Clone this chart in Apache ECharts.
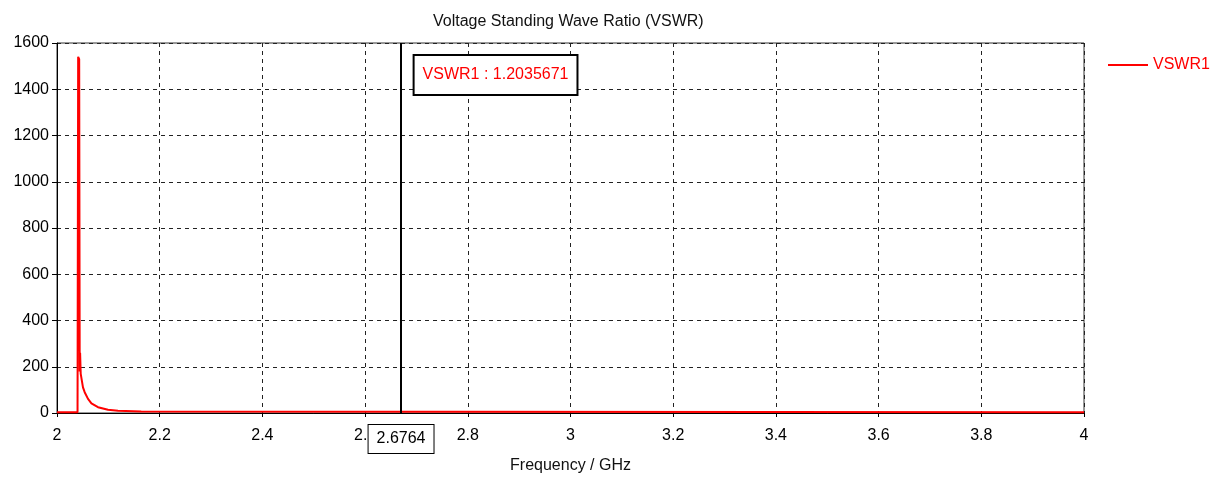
<!DOCTYPE html>
<html>
<head>
    <meta charset="utf-8">
    <title>VSWR</title>
    <script src="https://cdn.jsdelivr.net/npm/echarts@6/dist/echarts.min.js"></script>
    <style>
        html, body { margin: 0; padding: 0; background: #fff; }
        #container { width: 1213px; height: 479px; }
    </style>
</head>
<body>
<div id="container"></div>
<script type="text/javascript">
    // frequency (GHz) and VSWR
    var freqs = [2.0, 2.040, 2.0412, 2.0432, 2.0442, 2.0450, 2.0462, 2.0506, 2.0539, 2.0604, 2.067, 2.0798, 2.0993, 2.1188, 2.164, 2.165, 4.0];
    var vswr  = [3, 3, 1540, 1530, 180, 260, 169, 111, 90, 61, 42, 25, 14, 10, 7, 3, 3];
    // marker: where the line sits in the picture, and what its labels say
    var markerPos = 2.675;
    var markerFreqText = '2.6764';
    var markerText = 'VSWR1 : 1.2035671';

    var seriesData = [];
    for (var i = 0; i < freqs.length; i++) {
        seriesData.push([freqs[i], vswr[i]]);
    }

    var fontName = 'Liberation Sans';
    var mychart = echarts.init(document.getElementById('container'));

    var options = {
        animation: false,
        textStyle: { fontFamily: fontName },
        title: {
            text: 'Voltage Standing Wave Ratio (VSWR)',
            left: 428,
            top: 9,
            textStyle: { fontFamily: fontName, fontSize: 16, fontWeight: 'normal', color: '#111' }
        },
        legend: {
            left: 1103,
            top: 52,
            itemWidth: 40,
            itemHeight: 2,
            itemGap: 5,
            textStyle: { fontFamily: fontName, fontSize: 16, color: '#ff0000' },
            data: [{ name: 'VSWR1', icon: 'rect' }]
        },
        grid: {
            left: 57,
            right: 129,
            top: 43,
            bottom: 66,
            show: true,
            borderColor: '#333',
            borderWidth: 1,
            backgroundColor: '#fff'
        },
        xAxis: {
            type: 'value',
            min: 2,
            max: 4,
            interval: 0.2,
            name: 'Frequency / GHz',
            nameLocation: 'middle',
            nameGap: 45,
            nameTextStyle: { fontFamily: fontName, fontSize: 16, color: '#111' },
            axisLine: { lineStyle: { color: '#000', width: 1 } },
            axisTick: { show: true, length: 4, lineStyle: { color: '#000' } },
            axisLabel: { margin: 15, fontFamily: fontName, fontSize: 16, color: '#000' },
            splitLine: { show: true, lineStyle: { color: '#222', type: [4, 4], width: 1 } }
        },
        yAxis: {
            type: 'value',
            min: 0,
            max: 1600,
            interval: 200,
            axisLine: { show: true, lineStyle: { color: '#000', width: 1 } },
            axisTick: { show: true, length: 5, lineStyle: { color: '#000' } },
            axisLabel: {
                margin: 8, fontFamily: fontName, fontSize: 16, color: '#000',
                formatter: function (v) { return String(v); }
            },
            splitLine: { show: true, lineStyle: { color: '#222', type: [4, 4], width: 1 } }
        },
        series: [
            {
                name: 'VSWR1',
                type: 'line',
                symbol: 'none',
                color: '#ff0000',
                lineStyle: { color: '#ff0000', width: 2 },
                data: seriesData,
                z: 3,
                markLine: {
                    silent: true,
                    symbol: 'none',
                    animation: false,
                    lineStyle: { color: '#000', width: 2, type: 'solid' },
                    label: {
                        show: true,
                        position: 'start',
                        distance: 12,
                        formatter: markerFreqText,
                        fontFamily: fontName,
                        fontSize: 16,
                        color: '#000',
                        backgroundColor: '#fff',
                        borderColor: '#000',
                        borderWidth: 1,
                        padding: [6, 8]
                    },
                    emphasis: { disabled: true },
                    data: [{ xAxis: markerPos }]
                },
                markPoint: {
                    silent: true,
                    symbol: 'rect',
                    symbolSize: 0,
                    animation: false,
                    label: {
                        show: true,
                        position: [11, 13],
                        align: 'left',
                        verticalAlign: 'top',
                        formatter: markerText,
                        fontFamily: fontName,
                        fontSize: 16,
                        color: '#ff0000',
                        backgroundColor: '#fff',
                        borderColor: '#000',
                        borderWidth: 2,
                        padding: [11, 8]
                    },
                    data: [{ coord: [markerPos, 1600] }]
                }
            }
        ]
    };

    mychart.setOption(options);
</script>
</body>
</html>
